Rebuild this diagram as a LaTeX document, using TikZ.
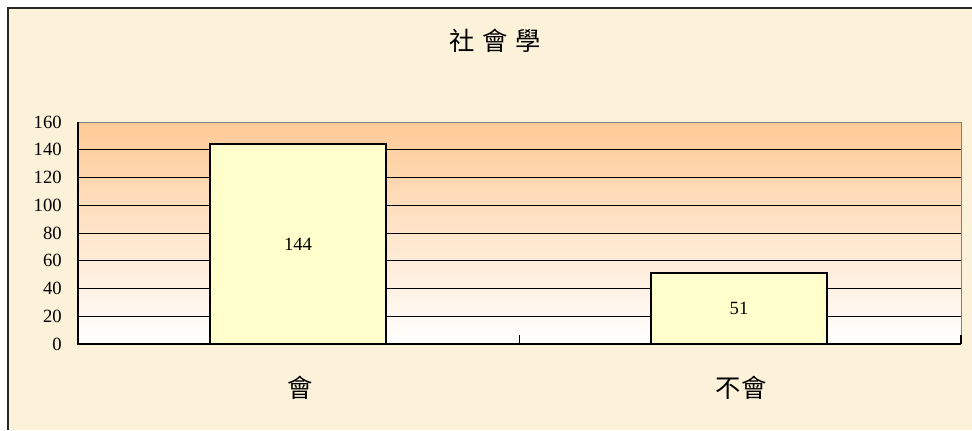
\documentclass[tikz,border=0pt]{standalone}
\usepackage{fontspec}
\setmainfont{Liberation Serif}
\newfontfamily\cjk{Noto Sans CJK TC}
\definecolor{paper}{RGB}{252,242,218}
\definecolor{peach}{RGB}{255,202,150}
\definecolor{barfill}{RGB}{255,255,204}
\tikzstyle{ticklabel}=[anchor=east,inner sep=0pt,font=\fontsize{14}{16}\selectfont]
\tikzstyle{gridline}=[black,line width=0.75pt]
\tikzstyle{bar}=[draw=black,fill=barfill,line width=1.5pt]
\tikzstyle{barlabel}=[inner sep=0pt,font=\fontsize{14}{16}\selectfont]
\tikzstyle{category}=[inner sep=0pt,font=\cjk\fontsize{19}{22}\selectfont]

\begin{document}
\begin{tikzpicture}[x=0.75pt,y=-0.75pt]
\useasboundingbox (0,0) rectangle (972,430);
\fill[white] (0,0) rectangle (972,430);
\fill[paper] (8,8) rectangle (972,430);
\draw[line width=1.5pt, black!85] (8,430) -- (8,8) -- (972,8);
% plot area
\shade[top color=peach, bottom color=white] (78,122) rectangle (961,344);
\draw[gray, line width=0.75pt] (78,122) -- (961,122) -- (961,344);
\draw[gridline] (78,149.75) -- (961,149.75);
\draw[gridline] (78,177.5) -- (961,177.5);
\draw[gridline] (78,205.25) -- (961,205.25);
\draw[gridline] (78,233) -- (961,233);
\draw[gridline] (78,260.75) -- (961,260.75);
\draw[gridline] (78,288.5) -- (961,288.5);
\draw[gridline] (78,316.25) -- (961,316.25);
% bars
\draw[bar] (210,144.2) rectangle (386,344);
\draw[bar] (651,273.2) rectangle (827,344);
\node[barlabel] at (298,244.5) (v1) {144};
\node[barlabel] at (739,308.5) (v2) {51};
% axes
\draw[black, line width=1.5pt] (78,122) -- (78,344) -- (961,344);
\draw[black, line width=1.2pt] (519.5,335) -- (519.5,344);
\draw[black, line width=1.2pt] (961,335) -- (961,344);
\node[ticklabel] at (62,344) (y0) {0};
\node[ticklabel] at (62,316.25) (y20) {20};
\node[ticklabel] at (62,288.5) (y40) {40};
\node[ticklabel] at (62,260.75) (y60) {60};
\node[ticklabel] at (62,233) (y80) {80};
\node[ticklabel] at (62,205.25) (y100) {100};
\node[ticklabel] at (62,177.5) (y120) {120};
\node[ticklabel] at (62,149.75) (y140) {140};
\node[ticklabel] at (62,122) (y160) {160};
% labels
\node[category] at (300,388) (hui) {會};
\node[category] at (741,388) (buhui) {不會};
\node[category] at (495,41) (title) {社\hspace{6pt}會\hspace{6pt}學};
\end{tikzpicture}
\end{document}
